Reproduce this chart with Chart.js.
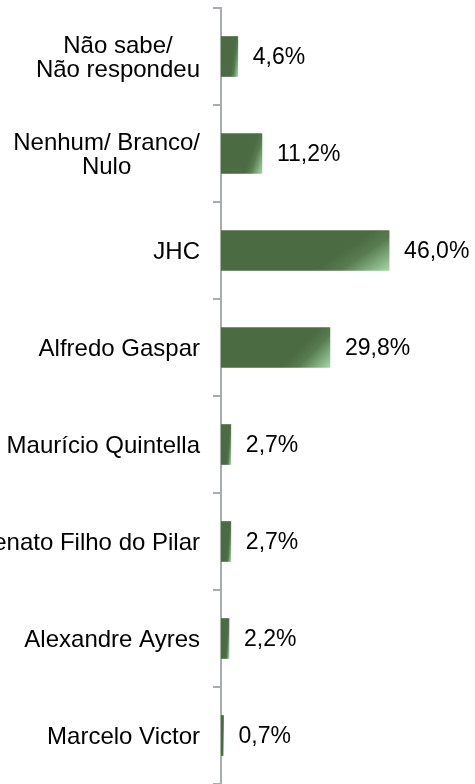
<!DOCTYPE html>
<html>
<head>
<meta charset="utf-8">
<script src="https://cdn.jsdelivr.net/npm/chart.js@4"></script>
<style>
  html, body { margin: 0; padding: 0; background: #fff; }
  #wrap { width: 475px; height: 784px; position: relative; }
</style>
</head>
<body>
<div id="wrap"><canvas id="votesChart"></canvas></div>
<script>
const categories = [
  ['Não sabe/', 'Não respondeu'],
  ['Nenhum/ Branco/', 'Nulo'],
  'JHC',
  'Alfredo Gaspar',
  'Maurício Quintella',
  'Renato Filho do Pilar',
  'Alexandre Ayres',
  'Marcelo Victor'
];
const votes = [4.6, 11.2, 46.0, 29.8, 2.7, 2.7, 2.2, 0.7];
const axisMax = 69.5;

const labelFont = '"Liberation Sans", Arial, sans-serif';

function barGradient(context) {
  const chart = context.chart;
  const x = chart.scales.x, y = chart.scales.y;
  if (!chart.chartArea || !x || !y) return '#4c6c44';
  const i = context.dataIndex;
  const h = 40;
  const x0 = x.getPixelForValue(0);
  const x1 = x.getPixelForValue(votes[i]);
  const w = Math.max(x1 - x0, 1);
  const yb = y.getPixelForValue(i) + h / 2;
  // streak runs corner to corner, stretched with the bar
  let nx = h, ny = 0.35 * w;
  const len = Math.hypot(nx, ny);
  nx /= len; ny /= len;
  const t0 = -0.45 * w * nx;
  const g = chart.ctx.createLinearGradient(x1 + t0 * nx, yb + t0 * ny, x1, yb);
  g.addColorStop(0, '#4b6b43');
  g.addColorStop(0.35, '#587c50');
  g.addColorStop(1, '#a4d6a6');
  return g;
}

// category names: block right-aligned to the axis, lines centred in the block
const categoryLabels = {
  id: 'categoryLabels',
  afterDraw(chart) {
    const ctx = chart.ctx;
    const y = chart.scales.y;
    const right = y.right - 8 - 13;
    const lh = 24;
    ctx.save();
    ctx.font = '24px ' + labelFont;
    ctx.fillStyle = '#000';
    ctx.textAlign = 'center';
    ctx.textBaseline = 'middle';
    categories.forEach((cat, i) => {
      const lines = Array.isArray(cat) ? cat : [cat];
      const maxW = Math.max(...lines.map(l => ctx.measureText(l).width));
      const cx = right - maxW / 2;
      const cy = y.getPixelForValue(i) + 2;
      lines.forEach((line, k) => {
        ctx.fillText(line, cx, cy + (k - (lines.length - 1) / 2) * lh);
      });
    });
    ctx.restore();
  }
};

const valueLabels = {
  id: 'valueLabels',
  afterDatasetsDraw(chart) {
    const ctx = chart.ctx;
    const meta = chart.getDatasetMeta(0);
    ctx.save();
    ctx.font = '23px ' + labelFont;
    ctx.fillStyle = '#000';
    ctx.textAlign = 'left';
    ctx.textBaseline = 'middle';
    meta.data.forEach((bar, i) => {
      const txt = votes[i].toFixed(1).replace('.', ',') + '%';
      ctx.fillText(txt, bar.x + 15, bar.y + 1);
    });
    ctx.restore();
  }
};

const ctx = document.getElementById('votesChart').getContext('2d');
new Chart(ctx, {
  type: 'bar',
  data: {
    labels: categories,
    datasets: [{
      data: votes,
      backgroundColor: barGradient,
      borderWidth: 0,
      barThickness: 40
    }]
  },
  options: {
    indexAxis: 'y',
    responsive: true,
    maintainAspectRatio: false,
    animation: false,
    layout: { padding: { top: 8, right: 0, bottom: 0, left: 0 } },
    plugins: {
      legend: { display: false },
      tooltip: { enabled: false }
    },
    scales: {
      x: { display: false, min: 0, max: axisMax },
      y: {
        afterFit(scale) {
          scale.width = 221;
          scale.paddingTop = 0;
          scale.paddingBottom = 0;
        },
        border: { display: true, color: '#a8acb2', width: 2 },
        grid: {
          drawOnChartArea: false,
          drawTicks: true,
          tickLength: 8,
          color: '#a8acb2',
          lineWidth: 2,
          offset: true
        },
        ticks: { display: false, autoSkip: false }
      }
    }
  },
  plugins: [valueLabels, categoryLabels]
});
</script>
</body>
</html>
